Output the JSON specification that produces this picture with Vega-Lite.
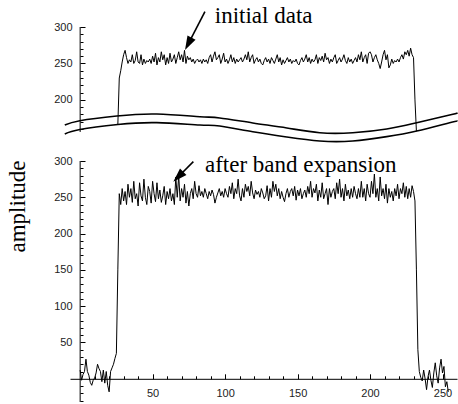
{
  "$schema": "https://vega.github.io/schema/vega-lite/v6.json",
  "autosize": {"type": "none"},
  "width": 387,
  "height": 375,
  "padding": {"left": 70, "top": 27, "right": 1, "bottom": 2},
  "background": "white",
  "config": {
    "view": {"stroke": null},
    "axis": {"grid": false, "domainColor": "black", "tickColor": "black", "labelFont": "Liberation Sans", "labelFontSize": 11, "labelColor": "#222", "labelOverlap": false, "labelFlush": false, "tickWidth": 1, "domainWidth": 1}
  },
  "datasets": {
    "one": [{}],
    "top": [
      {"x":26,"y":166},{"x":27,"y":230},{"x":28,"y":240},{"x":29,"y":252},{"x":30,"y":262},{"x":31,"y":268},{"x":32,"y":258},{"x":33,"y":250},{"x":34,"y":255},{"x":35,"y":252},{"x":36,"y":262},{"x":37,"y":250},{"x":38,"y":254},{"x":39,"y":266},{"x":40,"y":252},{"x":41,"y":250},{"x":42,"y":262},{"x":43,"y":248},{"x":44,"y":256},{"x":45,"y":250},{"x":46,"y":254},{"x":47,"y":252},{"x":48,"y":256},{"x":49,"y":250},{"x":50,"y":260},{"x":51,"y":252},{"x":52,"y":264},{"x":53,"y":248},{"x":54,"y":258},{"x":55,"y":252},{"x":56,"y":266},{"x":57,"y":255},{"x":58,"y":262},{"x":59,"y":248},{"x":60,"y":258},{"x":61,"y":250},{"x":62,"y":264},{"x":63,"y":252},{"x":64,"y":256},{"x":65,"y":262},{"x":66,"y":250},{"x":67,"y":258},{"x":68,"y":266},{"x":69,"y":255},{"x":70,"y":262},{"x":71,"y":252},{"x":72,"y":268},{"x":73,"y":250},{"x":74,"y":260},{"x":75,"y":255},{"x":76,"y":258},{"x":77,"y":252},{"x":78,"y":256},{"x":79,"y":250},{"x":80,"y":254},{"x":81,"y":256},{"x":82,"y":252},{"x":83,"y":255},{"x":84,"y":250},{"x":85,"y":256},{"x":86,"y":252},{"x":87,"y":255},{"x":88,"y":250},{"x":89,"y":258},{"x":90,"y":262},{"x":91,"y":252},{"x":92,"y":260},{"x":93,"y":266},{"x":94,"y":255},{"x":95,"y":258},{"x":96,"y":262},{"x":97,"y":250},{"x":98,"y":256},{"x":99,"y":264},{"x":100,"y":252},{"x":101,"y":256},{"x":102,"y":250},{"x":103,"y":255},{"x":104,"y":262},{"x":105,"y":252},{"x":106,"y":258},{"x":107,"y":250},{"x":108,"y":256},{"x":109,"y":252},{"x":110,"y":255},{"x":111,"y":258},{"x":112,"y":252},{"x":113,"y":256},{"x":114,"y":262},{"x":115,"y":255},{"x":116,"y":266},{"x":117,"y":252},{"x":118,"y":258},{"x":119,"y":262},{"x":120,"y":250},{"x":121,"y":255},{"x":122,"y":258},{"x":123,"y":252},{"x":124,"y":256},{"x":125,"y":250},{"x":126,"y":248},{"x":127,"y":254},{"x":128,"y":258},{"x":129,"y":252},{"x":130,"y":256},{"x":131,"y":250},{"x":132,"y":258},{"x":133,"y":254},{"x":134,"y":250},{"x":135,"y":256},{"x":136,"y":262},{"x":137,"y":252},{"x":138,"y":258},{"x":139,"y":248},{"x":140,"y":255},{"x":141,"y":250},{"x":142,"y":254},{"x":143,"y":258},{"x":144,"y":252},{"x":145,"y":256},{"x":146,"y":250},{"x":147,"y":254},{"x":148,"y":252},{"x":149,"y":256},{"x":150,"y":250},{"x":151,"y":248},{"x":152,"y":254},{"x":153,"y":258},{"x":154,"y":252},{"x":155,"y":256},{"x":156,"y":262},{"x":157,"y":252},{"x":158,"y":258},{"x":159,"y":250},{"x":160,"y":256},{"x":161,"y":252},{"x":162,"y":255},{"x":163,"y":262},{"x":164,"y":250},{"x":165,"y":258},{"x":166,"y":254},{"x":167,"y":260},{"x":168,"y":252},{"x":169,"y":264},{"x":170,"y":255},{"x":171,"y":258},{"x":172,"y":250},{"x":173,"y":256},{"x":174,"y":252},{"x":175,"y":258},{"x":176,"y":262},{"x":177,"y":250},{"x":178,"y":254},{"x":179,"y":258},{"x":180,"y":252},{"x":181,"y":256},{"x":182,"y":262},{"x":183,"y":254},{"x":184,"y":250},{"x":185,"y":258},{"x":186,"y":252},{"x":187,"y":256},{"x":188,"y":250},{"x":189,"y":254},{"x":190,"y":258},{"x":191,"y":252},{"x":192,"y":262},{"x":193,"y":255},{"x":194,"y":266},{"x":195,"y":252},{"x":196,"y":258},{"x":197,"y":262},{"x":198,"y":250},{"x":199,"y":264},{"x":200,"y":266},{"x":201,"y":262},{"x":202,"y":252},{"x":203,"y":258},{"x":204,"y":262},{"x":205,"y":255},{"x":206,"y":250},{"x":207,"y":243},{"x":208,"y":252},{"x":209,"y":262},{"x":210,"y":268},{"x":211,"y":255},{"x":212,"y":262},{"x":213,"y":244},{"x":214,"y":248},{"x":215,"y":256},{"x":216,"y":250},{"x":217,"y":254},{"x":218,"y":252},{"x":219,"y":256},{"x":220,"y":252},{"x":221,"y":258},{"x":222,"y":262},{"x":223,"y":256},{"x":224,"y":266},{"x":225,"y":262},{"x":226,"y":268},{"x":227,"y":260},{"x":228,"y":271},{"x":229,"y":262},{"x":230,"y":258},{"x":231,"y":200},{"x":232,"y":157}
    ],
    "bottom": [
      {"x":0,"y":12},{"x":1,"y":-2},{"x":2,"y":6},{"x":3,"y":10},{"x":4,"y":27},{"x":5,"y":10},{"x":6,"y":5},{"x":7,"y":-5},{"x":8,"y":-9},{"x":9,"y":-2},{"x":10,"y":1},{"x":11,"y":8},{"x":12,"y":20},{"x":13,"y":14},{"x":14,"y":10},{"x":15,"y":-4},{"x":16,"y":12},{"x":17,"y":-6},{"x":18,"y":10},{"x":19,"y":-9},{"x":20,"y":-18},{"x":21,"y":10},{"x":22,"y":15},{"x":23,"y":20},{"x":24,"y":28},{"x":25,"y":35},{"x":26,"y":150},
      {"x":27,"y":255},{"x":28,"y":240},{"x":29,"y":262},{"x":30,"y":245},{"x":31,"y":258},{"x":32,"y":240},{"x":33,"y":268},{"x":34,"y":250},{"x":35,"y":262},{"x":36,"y":243},{"x":37,"y":272},{"x":38,"y":248},{"x":39,"y":255},{"x":40,"y":238},{"x":41,"y":270},{"x":42,"y":252},{"x":43,"y":245},{"x":44,"y":275},{"x":45,"y":250},{"x":46,"y":240},{"x":47,"y":265},{"x":48,"y":258},{"x":49,"y":242},{"x":50,"y":272},{"x":51,"y":255},{"x":52,"y":244},{"x":53,"y":270},{"x":54,"y":248},{"x":55,"y":260},{"x":56,"y":243},{"x":57,"y":252},{"x":58,"y":265},{"x":59,"y":240},{"x":60,"y":258},{"x":61,"y":248},{"x":62,"y":262},{"x":63,"y":245},{"x":64,"y":255},{"x":65,"y":240},{"x":66,"y":278},{"x":67,"y":250},{"x":68,"y":280},{"x":69,"y":245},{"x":70,"y":262},{"x":71,"y":250},{"x":72,"y":268},{"x":73,"y":242},{"x":74,"y":258},{"x":75,"y":238},{"x":76,"y":255},{"x":77,"y":262},{"x":78,"y":248},{"x":79,"y":272},{"x":80,"y":255},{"x":81,"y":250},{"x":82,"y":266},{"x":83,"y":252},{"x":84,"y":258},{"x":85,"y":250},{"x":86,"y":262},{"x":87,"y":255},{"x":88,"y":248},{"x":89,"y":258},{"x":90,"y":252},{"x":91,"y":260},{"x":92,"y":254},{"x":93,"y":242},{"x":94,"y":250},{"x":95,"y":256},{"x":96,"y":262},{"x":97,"y":252},{"x":98,"y":258},{"x":99,"y":250},{"x":100,"y":262},{"x":101,"y":255},{"x":102,"y":250},{"x":103,"y":265},{"x":104,"y":255},{"x":105,"y":270},{"x":106,"y":248},{"x":107,"y":262},{"x":108,"y":255},{"x":109,"y":275},{"x":110,"y":252},{"x":111,"y":245},{"x":112,"y":262},{"x":113,"y":250},{"x":114,"y":268},{"x":115,"y":258},{"x":116,"y":265},{"x":117,"y":252},{"x":118,"y":272},{"x":119,"y":256},{"x":120,"y":248},{"x":121,"y":260},{"x":122,"y":254},{"x":123,"y":258},{"x":124,"y":250},{"x":125,"y":262},{"x":126,"y":256},{"x":127,"y":248},{"x":128,"y":252},{"x":129,"y":266},{"x":130,"y":245},{"x":131,"y":262},{"x":132,"y":250},{"x":133,"y":272},{"x":134,"y":258},{"x":135,"y":268},{"x":136,"y":252},{"x":137,"y":262},{"x":138,"y":248},{"x":139,"y":258},{"x":140,"y":250},{"x":141,"y":244},{"x":142,"y":255},{"x":143,"y":262},{"x":144,"y":250},{"x":145,"y":258},{"x":146,"y":262},{"x":147,"y":252},{"x":148,"y":265},{"x":149,"y":246},{"x":150,"y":260},{"x":151,"y":252},{"x":152,"y":262},{"x":153,"y":248},{"x":154,"y":255},{"x":155,"y":260},{"x":156,"y":250},{"x":157,"y":265},{"x":158,"y":255},{"x":159,"y":272},{"x":160,"y":250},{"x":161,"y":262},{"x":162,"y":256},{"x":163,"y":268},{"x":164,"y":245},{"x":165,"y":260},{"x":166,"y":250},{"x":167,"y":270},{"x":168,"y":248},{"x":169,"y":255},{"x":170,"y":262},{"x":171,"y":240},{"x":172,"y":262},{"x":173,"y":250},{"x":174,"y":258},{"x":175,"y":262},{"x":176,"y":248},{"x":177,"y":270},{"x":178,"y":255},{"x":179,"y":275},{"x":180,"y":250},{"x":181,"y":262},{"x":182,"y":245},{"x":183,"y":268},{"x":184,"y":252},{"x":185,"y":260},{"x":186,"y":248},{"x":187,"y":262},{"x":188,"y":250},{"x":189,"y":265},{"x":190,"y":255},{"x":191,"y":248},{"x":192,"y":262},{"x":193,"y":250},{"x":194,"y":272},{"x":195,"y":250},{"x":196,"y":262},{"x":197,"y":245},{"x":198,"y":268},{"x":199,"y":255},{"x":200,"y":250},{"x":201,"y":272},{"x":202,"y":255},{"x":203,"y":282},{"x":204,"y":250},{"x":205,"y":262},{"x":206,"y":245},{"x":207,"y":278},{"x":208,"y":252},{"x":209,"y":262},{"x":210,"y":248},{"x":211,"y":268},{"x":212,"y":242},{"x":213,"y":262},{"x":214,"y":250},{"x":215,"y":258},{"x":216,"y":245},{"x":217,"y":262},{"x":218,"y":252},{"x":219,"y":268},{"x":220,"y":248},{"x":221,"y":262},{"x":222,"y":255},{"x":223,"y":270},{"x":224,"y":250},{"x":225,"y":265},{"x":226,"y":248},{"x":227,"y":262},{"x":228,"y":250},{"x":229,"y":266},{"x":230,"y":258},{"x":231,"y":245},{"x":232,"y":150},{"x":233,"y":40},{"x":234,"y":10},
      {"x":235,"y":2},{"x":236,"y":-3},{"x":237,"y":12},{"x":238,"y":0},{"x":239,"y":-15},{"x":240,"y":3},{"x":241,"y":12},{"x":242,"y":-2},{"x":243,"y":-12},{"x":244,"y":8},{"x":245,"y":22},{"x":246,"y":4},{"x":247,"y":-6},{"x":248,"y":15},{"x":249,"y":27},{"x":250,"y":8},{"x":251,"y":17},{"x":252,"y":-11},{"x":253,"y":-4},{"x":254,"y":-18}
    ],
    "breakCurves": [
      {"curve":"upper","x":-10.6,"y":165.6},{"curve":"upper","x":-0.2,"y":171.5},{"curve":"upper","x":25.3,"y":178},{"curve":"upper","x":52.9,"y":180.7},{"curve":"upper","x":82.6,"y":177},{"curve":"upper","x":96.3,"y":175.2},{"curve":"upper","x":119.1,"y":168.4},{"curve":"upper","x":142.6,"y":161.5},{"curve":"upper","x":165.3,"y":155},{"curve":"upper","x":188.1,"y":155},{"curve":"upper","x":211.5,"y":160.1},{"curve":"upper","x":232.2,"y":168.8},{"curve":"upper","x":254.9,"y":179.3},{"curve":"upper","x":260.4,"y":182.1},
      {"curve":"lower","x":-10.6,"y":153.3},{"curve":"lower","x":-0.2,"y":159.4},{"curve":"lower","x":26,"y":166.2},{"curve":"lower","x":52.9,"y":168.8},{"curve":"lower","x":82.6,"y":165.6},{"curve":"lower","x":96.3,"y":164.2},{"curve":"lower","x":119.1,"y":156.4},{"curve":"lower","x":142.6,"y":149.2},{"curve":"lower","x":165.3,"y":143.7},{"curve":"lower","x":188.1,"y":143.7},{"curve":"lower","x":211.5,"y":149.6},{"curve":"lower","x":232.2,"y":157.4},{"curve":"lower","x":254.9,"y":168.8},{"curve":"lower","x":260.4,"y":171.1}
    ]
  },
  "layer": [
    {
      "layer": [
        {
          "data": {"name": "top"},
          "mark": {"type": "line", "color": "black", "strokeWidth": 1},
          "encoding": {
            "x": {"field": "x", "type": "quantitative", "title": null, "axis": null, "scale": {"domain": [-7, 260], "nice": false, "zero": false}},
            "y": {"field": "y", "type": "quantitative", "title": null, "scale": {"domain": [-214.3, 300], "nice": false, "zero": false},
                  "axis": {"orient": "left", "offset": -10, "domain": false, "ticks": true, "tickSize": -5, "tickColor": "black", "values": [200, 250, 300], "labelOverlap": false, "labelPadding": 13, "title": null}}
          }
        },
        {
          "data": {"name": "one"},
          "mark": {"type": "rule", "color": "black", "strokeWidth": 1},
          "encoding": {
            "x": {"datum": 0, "type": "quantitative", "title": null, "axis": null, "scale": {"domain": [-7, 260], "nice": false, "zero": false}},
            "y": {"datum": 156, "type": "quantitative", "title": null, "scale": {"domain": [-214.3, 300], "nice": false, "zero": false},
                  "axis": {"orient": "left", "offset": -10, "domain": false, "labels": false, "ticks": true, "tickSize": -3, "tickColor": "black", "values": [160,170,180,190,210,220,230,240,260,270,280,290], "title": null}},
            "y2": {"datum": 300}
          }
        },
        {
          "data": {"name": "breakCurves"},
          "mark": {"type": "line", "color": "black", "strokeWidth": 1.6, "interpolate": "natural"},
          "encoding": {
            "x": {"field": "x", "type": "quantitative", "title": null, "axis": null, "scale": {"domain": [-7, 260], "nice": false, "zero": false}},
            "y": {"field": "y", "type": "quantitative", "title": null, "axis": null, "scale": {"domain": [-214.3, 300], "nice": false, "zero": false}},
            "detail": {"field": "curve", "type": "nominal"}
          }
        },
        {
          "data": {"name": "one"},
          "mark": {"type": "text", "text": "initial data", "font": "Liberation Serif", "fontSize": 23, "color": "black", "align": "left", "baseline": "alphabetic"},
          "encoding": {
            "x": {"datum": 92.9, "type": "quantitative", "title": null, "axis": null, "scale": {"domain": [-7, 260], "nice": false, "zero": false}},
            "y": {"datum": 305.1, "type": "quantitative", "title": null, "axis": null, "scale": {"domain": [-214.3, 300], "nice": false, "zero": false}}
          }
        },
        {
          "data": {"name": "one"},
          "mark": {"type": "rule", "color": "black", "strokeWidth": 1.6},
          "encoding": {
            "x": {"datum": 86.1, "type": "quantitative", "title": null, "axis": null, "scale": {"domain": [-7, 260], "nice": false, "zero": false}},
            "y": {"datum": 321, "type": "quantitative", "title": null, "axis": null, "scale": {"domain": [-214.3, 300], "nice": false, "zero": false}},
            "x2": {"datum": 74.6},
            "y2": {"datum": 277}
          }
        },
        {
          "data": {"name": "one"},
          "mark": {"type": "point", "shape": "M0,-1L-0.65,1L0.65,1Z", "filled": true, "size": 196, "angle": 207.6, "color": "black", "opacity": 1},
          "encoding": {
            "x": {"datum": 74.6, "type": "quantitative", "title": null, "axis": null, "scale": {"domain": [-7, 260], "nice": false, "zero": false}},
            "y": {"datum": 277, "type": "quantitative", "title": null, "axis": null, "scale": {"domain": [-214.3, 300], "nice": false, "zero": false}}
          }
        }
      ],
      "resolve": {"axis": {"y": "independent"}}
    },
    {
      "layer": [
        {
          "data": {"name": "bottom"},
          "mark": {"type": "line", "color": "black", "strokeWidth": 1},
          "encoding": {
            "x": {"field": "x", "type": "quantitative", "title": null, "scale": {"domain": [-7, 260], "nice": false, "zero": false},
                  "axis": {"orient": "bottom", "offset": -23.2, "ticks": true, "tickSize": -5, "tickColor": "black", "values": [50, 100, 150, 200, 250], "labelOverlap": false, "labelFlush": false, "labelPadding": 14, "title": null}},
            "y": {"field": "y", "type": "quantitative", "scale": {"domain": [-32, 484.6], "nice": false, "zero": false},
                  "axis": {"orient": "left", "offset": -10, "domain": false, "ticks": true, "tickSize": -5, "tickColor": "black", "values": [50, 100, 150, 200, 250, 300], "labelOverlap": false, "labelPadding": 13,
                           "title": "amplitude", "titleFont": "Liberation Serif", "titleFontSize": 23, "titleFontWeight": "normal", "titleColor": "black", "titleAngle": 270, "titleX": -56, "titleY": 179, "titleBaseline": "alphabetic", "titleAlign": "center"}}
          }
        },
        {
          "data": {"name": "one"},
          "mark": {"type": "rule", "color": "black", "strokeWidth": 1},
          "encoding": {
            "x": {"datum": 0, "type": "quantitative", "title": null, "scale": {"domain": [-7, 260], "nice": false, "zero": false},
                  "axis": {"orient": "bottom", "offset": -23.2, "domain": false, "labels": false, "ticks": true, "tickSize": -3, "tickColor": "black", "values": [10,20,30,40,60,70,80,90,110,120,130,140,160,170,180,190,210,220,230,240], "title": null}},
            "y": {"datum": -32, "type": "quantitative", "scale": {"domain": [-32, 484.6], "nice": false, "zero": false},
                  "axis": {"orient": "left", "offset": -10, "domain": false, "labels": false, "ticks": true, "tickSize": -3, "tickColor": "black", "values": [-30,-20,-10,10,20,30,40,60,70,80,90,110,120,130,140,160,170,180,190,210,220,230,240,260,270,280,290], "title": null}},
            "y2": {"datum": 300}
          }
        },
        {
          "data": {"name": "one"},
          "mark": {"type": "text", "text": "after band expansion", "font": "Liberation Serif", "fontSize": 23, "color": "black", "align": "left", "baseline": "alphabetic"},
          "encoding": {
            "x": {"datum": 86.1, "type": "quantitative", "title": null, "axis": null, "scale": {"domain": [-7, 260], "nice": false, "zero": false}},
            "y": {"datum": 284.2, "type": "quantitative", "axis": null, "scale": {"domain": [-32, 484.6], "nice": false, "zero": false}}
          }
        },
        {
          "data": {"name": "one"},
          "mark": {"type": "rule", "color": "black", "strokeWidth": 1.6},
          "encoding": {
            "x": {"datum": 78.1, "type": "quantitative", "title": null, "axis": null, "scale": {"domain": [-7, 260], "nice": false, "zero": false}},
            "y": {"datum": 299.1, "type": "quantitative", "axis": null, "scale": {"domain": [-32, 484.6], "nice": false, "zero": false}},
            "x2": {"datum": 67.7},
            "y2": {"datum": 278.3}
          }
        },
        {
          "data": {"name": "one"},
          "mark": {"type": "point", "shape": "M0,-1L-0.65,1L0.65,1Z", "filled": true, "size": 196, "angle": 225, "color": "black", "opacity": 1},
          "encoding": {
            "x": {"datum": 67.7, "type": "quantitative", "title": null, "axis": null, "scale": {"domain": [-7, 260], "nice": false, "zero": false}},
            "y": {"datum": 278.3, "type": "quantitative", "axis": null, "scale": {"domain": [-32, 484.6], "nice": false, "zero": false}}
          }
        }
      ],
      "resolve": {"axis": {"x": "independent", "y": "independent"}}
    }
  ],
  "resolve": {"scale": {"y": "independent"}, "axis": {"x": "independent", "y": "independent"}}
}
